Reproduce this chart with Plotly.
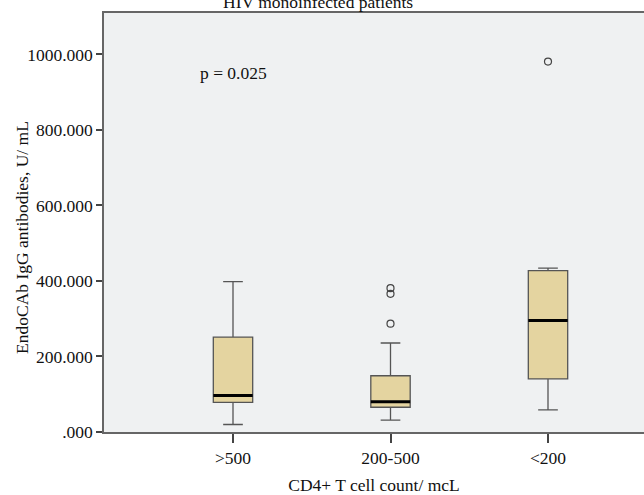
import plotly.graph_objects as go

# ---- data ----
categories = [">500", "200-500", "<200"]
lower_whisker = [19.8, 31.2, 58.6]
q1 = [78.7, 65.5, 140.5]
median = [96.4, 79.8, 295.0]
q3 = [251.5, 149.0, 427.5]
upper_whisker = [398.0, 235.7, 434.0]
outlier_cat = [1, 1, 1, 2]
outlier_val = [381.0, 366.0, 287.0, 981.0]
tick_values = [0, 200, 400, 600, 800, 1000]
tick_labels = [".000", "200.000", "400.000", "600.000", "800.000", "1000.000"]
p_text = "p = 0.025"
title_text = "HIV monoinfected patients"

W, H = 644, 495
ML, MR, MT, MB = 104, 0, 12.5, 62.5
FONT = "Liberation Serif"
FS = 17.5
BOX_W = 0.25

fig = go.Figure()
xs = list(range(len(categories)))
for i in xs:
    fig.add_trace(go.Box(
        x=[i], q1=[q1[i]], median=[median[i]], q3=[q3[i]],
        lowerfence=[lower_whisker[i]], upperfence=[upper_whisker[i]],
        width=BOX_W, whiskerwidth=0.5,
        fillcolor="#e4d4a0", line=dict(color="#555555", width=1.3),
        boxpoints=False, showlegend=False, hoverinfo="skip",
    ))
    fig.add_trace(go.Scatter(
        x=[i - BOX_W / 2, i + BOX_W / 2], y=[median[i], median[i]],
        mode="lines", line=dict(color="black", width=3),
        showlegend=False, hoverinfo="skip",
    ))

fig.add_trace(go.Scatter(
    x=outlier_cat, y=outlier_val, mode="markers",
    marker=dict(symbol="circle-open", size=7, color="#444444", line=dict(width=1.2)),
    showlegend=False, hoverinfo="skip",
))

x_left = -129 / 157.5
x_right = x_left + (W - ML - MR) / 157.5
y_top = (432.5 - 12.5) / 0.3785

fig.update_layout(
    width=W, height=H,
    margin=dict(l=ML, r=MR, t=MT, b=MB, pad=0),
    paper_bgcolor="white", plot_bgcolor="#eff1f2",
    font=dict(family=FONT, size=FS, color="#111111"),
    xaxis=dict(
        range=[x_left, x_right], tickvals=xs, ticktext=categories,
        showgrid=False, zeroline=False, showline=True, mirror=True,
        linecolor="#666666", linewidth=1.5,
        ticks="outside", ticklen=9, tickcolor="#444444", tickwidth=1.5,
        tickfont=dict(family=FONT, size=FS),
        title=dict(text="CD4+ T cell count/ mcL", font=dict(family=FONT, size=FS), standoff=16),
    ),
    yaxis=dict(
        range=[0, y_top], tickvals=tick_values, ticktext=tick_labels,
        showgrid=False, zeroline=False, showline=True,
        linecolor="#666666", linewidth=1.5,
        ticks="outside", ticklen=6, tickcolor="#444444", tickwidth=1.5,
        tickfont=dict(family=FONT, size=FS),
    ),
)

fig.add_annotation(
    text="EndoCAb IgG antibodies, U/ mL", textangle=-90,
    xref="paper", yref="paper", x=(22 - ML) / (W - ML - MR), y=(432.5 - 238) / 420,
    xanchor="center", yanchor="middle",
    showarrow=False, font=dict(family=FONT, size=FS),
)
fig.add_annotation(
    text=p_text, xref="x", yref="y", x=-0.222, y=950, xanchor="left", yanchor="middle",
    showarrow=False, font=dict(family=FONT, size=FS),
)
fig.add_annotation(
    text=title_text, xref="paper", yref="paper",
    x=(318 - ML) / (W - ML - MR), y=1 + (12.5 - 1) / 420,
    xanchor="center", yanchor="middle",
    showarrow=False, font=dict(family=FONT, size=FS),
)

fig.write_html("out.html")
